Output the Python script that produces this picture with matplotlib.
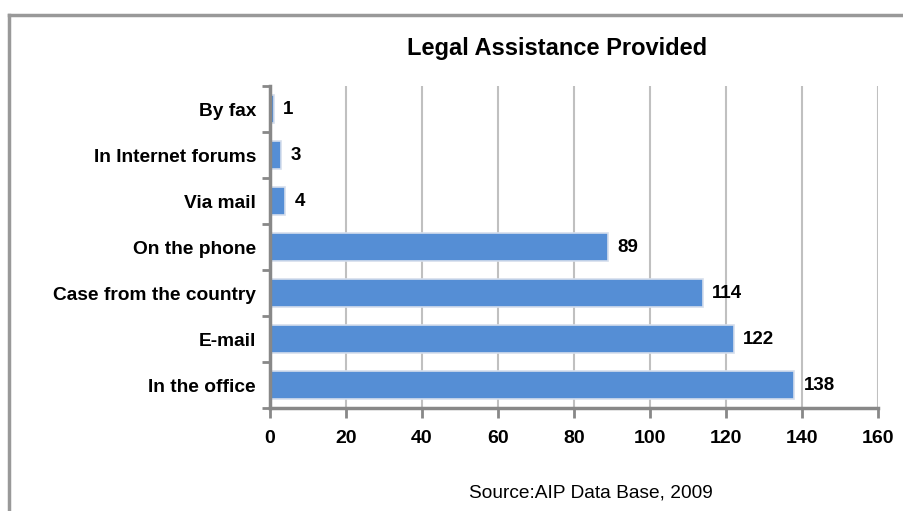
import matplotlib
matplotlib.use("Agg")
import matplotlib.pyplot as plt
from matplotlib.lines import Line2D

categories = ["In the office", "E-mail", "Case from the country", "On the phone",
              "Via mail", "In Internet forums", "By fax"]
values = [138, 122, 114, 89, 4, 3, 1]
xticks = [0, 20, 40, 60, 80, 100, 120, 140, 160]

plt.rcParams['font.family'] = ['Liberation Sans', 'DejaVu Sans']

fig = plt.figure(figsize=(9.04, 5.11), dpi=100)
W, H = 904, 511
# outer frame
fig.add_artist(Line2D([9/W, 9/W], [0, 1-15/H], color='#999999', lw=2.5, transform=fig.transFigure))
fig.add_artist(Line2D([9/W, 1.0], [1-15/H, 1-15/H], color='#999999', lw=2.5, transform=fig.transFigure))

ax = fig.add_axes([270/W, 1-408/H, (878-270)/W, (408-86)/H])
y = list(range(len(categories)))
ax.barh(y, values, height=0.62, color='#558ED5', edgecolor='#D5DEEC', linewidth=1.2, zorder=3)
for yi, v in zip(y, values):
    ax.text(v + 2.4, yi, str(v), va='center', ha='left', fontsize=13.5, fontweight='bold', color='black')

ax.set_xlim(0, 160)
ax.set_ylim(-0.5, len(categories) - 0.5)
ax.set_xticks(xticks)
ax.set_xticklabels([str(t) for t in xticks], fontsize=14, fontweight='bold')
ax.set_yticks(y)
ax.set_yticklabels(categories, fontsize=13.8, fontweight='bold')
ax.tick_params(axis='y', length=0, pad=10)
ax.set_yticks([i - 0.5 for i in range(len(categories) + 1)], minor=True)
ax.tick_params(axis='y', which='minor', length=6, width=2, color='#888888', direction='out')
ax.tick_params(axis='x', length=7, width=2, color='#888888', direction='out', pad=9)
ax.xaxis.grid(True, color='#C0C0C0', lw=1.5, zorder=0)
for s in ['top', 'right']:
    ax.spines[s].set_visible(False)
for s in ['left', 'bottom']:
    ax.spines[s].set_color('#888888')
    ax.spines[s].set_linewidth(2.5)
    ax.spines[s].set_zorder(4)

fig.text(557/W, 1-48/H, "Legal Assistance Provided", ha='center', va='center', fontsize=17, fontweight='bold')
fig.text(591/W, 1-493/H, "Source:AIP Data Base, 2009", ha='center', va='center', fontsize=13.8)

fig.savefig("out.png", dpi=100)
